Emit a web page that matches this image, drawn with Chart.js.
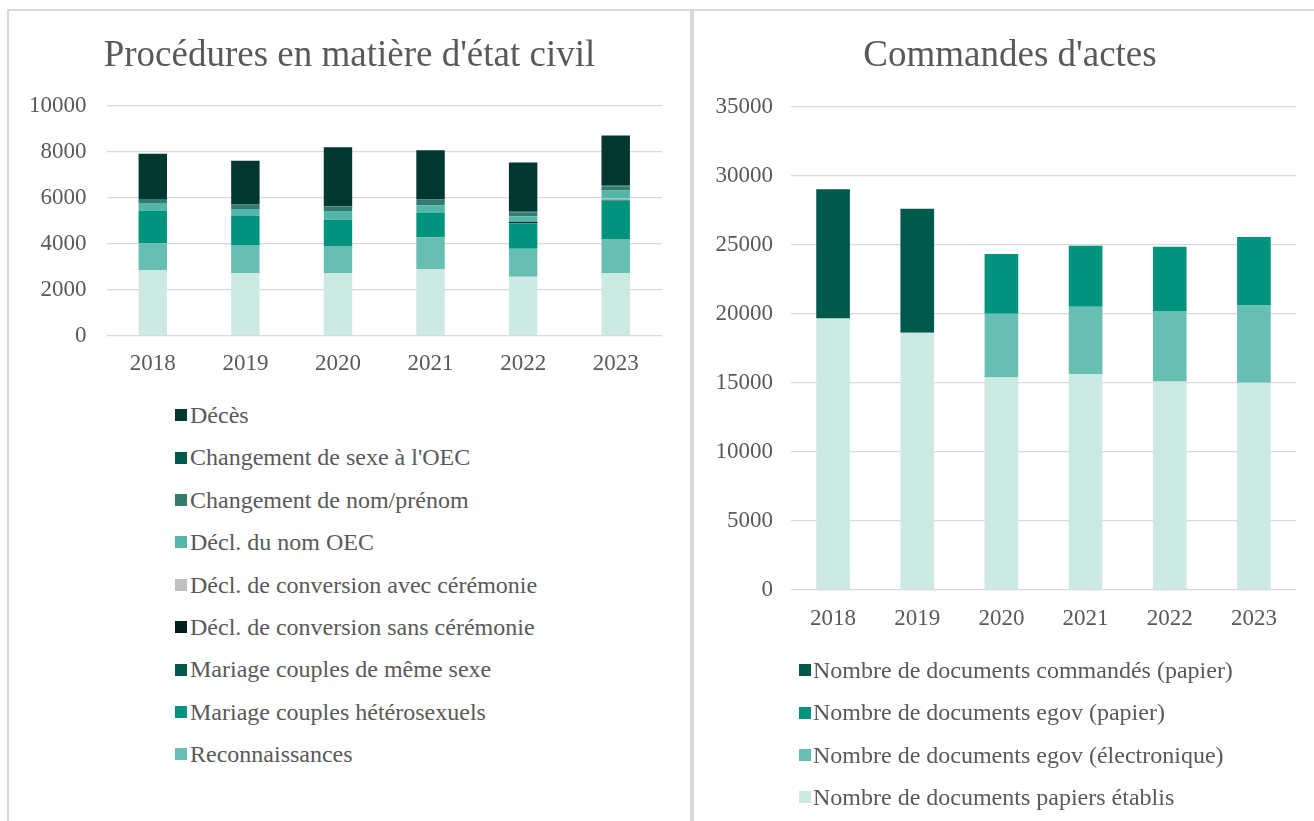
<!DOCTYPE html>
<html>
<head>
<meta charset="utf-8">
<script src="https://cdn.jsdelivr.net/npm/chart.js@4"></script>
<style>
  html, body { margin: 0; padding: 0; background: #ffffff; }
  body { width: 1314px; height: 821px; position: relative; overflow: hidden; font-family: "Liberation Serif", "Times New Roman", serif; }
  .panel { position: absolute; box-sizing: border-box; border: 2px solid #d9d9d9; border-bottom: none; }
  #panelL { left: 7px; top: 9px; width: 685px; height: 830px; }
  #panelR { left: 692px; top: 9px; width: 640px; height: 830px; border-right: none; }
  .cv { position: absolute; }
  #cL { left: 8px; top: 10px; }
  #cR { left: 693px; top: 10px; }
  .legend { position: absolute; margin: 0; padding: 0; list-style: none; color: #595959; font-size: 24px; font-family: "Liberation Serif", "Times New Roman", serif; }
  .legend li { height: 42.4px; line-height: 42.4px; white-space: nowrap; display: flex; align-items: center; }
  .legend .box { display: inline-block; width: 12px; height: 12px; margin-right: 3px; flex: none; }
  #legL { left: 175px; top: 394px; }
  #legR { left: 799px; top: 649px; }
  #legR .box { margin-right: 2px; }
</style>
</head>
<body>
<div class="panel" id="panelL"></div>
<div class="panel" id="panelR"></div>
<canvas id="cL" class="cv" width="683" height="380" style="width:683px;height:380px"></canvas>
<canvas id="cR" class="cv" width="634" height="640" style="width:634px;height:640px"></canvas>
<ul class="legend" id="legL"></ul>
<ul class="legend" id="legR"></ul>
<script>
// ---------- Data: left chart ----------
const years = ['2018', '2019', '2020', '2021', '2022', '2023'];
const titleLeft = "Procédures en matière d'état civil";
const titleRight = "Commandes d'actes";

const naissances          = [2860, 2730, 2715, 2900, 2565, 2725];
const reconnaissances     = [1160, 1220, 1185, 1390, 1220, 1480];
const mariageHetero       = [1420, 1260, 1145, 1055, 1095, 1680];
const mariageMemeSexe     = [0, 0, 0, 0, 20, 30];
const conversionSans      = [0, 0, 0, 0, 55, 0];
const conversionAvec      = [0, 0, 0, 0, 0, 60];
const declNomOEC          = [335, 305, 380, 335, 245, 350];
const changementNom       = [175, 205, 215, 260, 170, 177];
const changementSexe      = [0, 0, 0, 0, 50, 40];
const deces               = [1970, 1895, 2565, 2130, 2115, 2175];
const leftTicks           = [0, 2000, 4000, 6000, 8000, 10000];

// ---------- Data: right chart ----------
const papiersEtablis      = [19670, 18640, 15390, 15660, 15100, 15010];
const egovElectronique    = [0, 0, 4620, 4860, 5110, 5600];
const egovPapier          = [0, 0, 4340, 4430, 4665, 4965];
const commandesPapier     = [9375, 8980, 0, 0, 0, 0];
const rightTicks          = [0, 5000, 10000, 15000, 20000, 25000, 30000, 35000];

const TXT = '#595959';
const GRID = '#d9d9d9';
const FONT = '"Liberation Serif", "Times New Roman", serif';

function htmlLegend(ulId) {
  return {
    id: 'htmlLegend_' + ulId,
    afterUpdate(chart) {
      const ul = document.getElementById(ulId);
      ul.innerHTML = '';
      const ds = chart.data.datasets.slice().reverse();
      ds.forEach(d => {
        if (d.inLegend === false) return;
        const li = document.createElement('li');
        const b = document.createElement('span');
        b.className = 'box';
        b.style.background = d.backgroundColor;
        const t = document.createElement('span');
        t.textContent = d.label;
        li.appendChild(b); li.appendChild(t);
        ul.appendChild(li);
      });
    }
  };
}

function makeOptions(title, ticks, yw, yPad, titlePadTop, titlePadBottom, rightGap, padBottom, xPad) {
  return {
    responsive: false,
    animation: false,
    devicePixelRatio: 1,
    layout: { padding: { left: 0, right: 0, top: 0, bottom: padBottom } },
    plugins: {
      legend: { display: false },
      tooltip: { enabled: false },
      title: {
        display: true, text: title, color: TXT,
        font: { family: FONT, size: 37, weight: 'normal', lineHeight: 1.2 },
        padding: { top: titlePadTop, bottom: titlePadBottom }
      }
    },
    scales: {
      x: {
        stacked: true,
        grid: { display: false, drawTicks: false },
        border: { display: false },
        ticks: { color: TXT, font: { family: FONT, size: 23 }, padding: xPad },
        afterFit(s) { s.height = 50; }
      },
      y: {
        stacked: true,
        min: ticks[0], max: ticks[ticks.length - 1],
        afterBuildTicks(s) { s.ticks = ticks.map(v => ({ value: v })); },
        grid: { color: GRID, lineWidth: 1.3, drawTicks: false },
        border: { display: false },
        ticks: { color: TXT, font: { family: FONT, size: 23 }, padding: yPad, callback: v => String(v) },
        afterFit(s) { s.width = yw; }
      },
      gap: {
        type: 'linear', position: 'right', display: true,
        grid: { display: false, drawTicks: false },
        border: { display: false },
        ticks: { display: false },
        afterFit(s) { s.width = rightGap; }
      }
    }
  };
}

const barL = { barPercentage: 0.307, categoryPercentage: 1.0, borderWidth: 0 };
new Chart(document.getElementById('cL'), {
  type: 'bar',
  data: {
    labels: years,
    datasets: [
      { label: 'Naissances', data: naissances, backgroundColor: '#cce9e4', inLegend: false, ...barL },
      { label: 'Reconnaissances', data: reconnaissances, backgroundColor: '#66bfb2', ...barL },
      { label: 'Mariage couples hétérosexuels', data: mariageHetero, backgroundColor: '#00937e', ...barL },
      { label: 'Mariage couples de même sexe', data: mariageMemeSexe, backgroundColor: '#005a4c', ...barL },
      { label: 'Décl. de conversion sans cérémonie', data: conversionSans, backgroundColor: '#001f1c', ...barL },
      { label: 'Décl. de conversion avec cérémonie', data: conversionAvec, backgroundColor: '#bfbfbf', ...barL },
      { label: 'Décl. du nom OEC', data: declNomOEC, backgroundColor: '#52b7a8', ...barL },
      { label: 'Changement de nom/prénom', data: changementNom, backgroundColor: '#357a70', ...barL },
      { label: "Changement de sexe à l'OEC", data: changementSexe, backgroundColor: '#005a4c', ...barL },
      { label: 'Décès', data: deces, backgroundColor: '#003730', ...barL }
    ]
  },
  options: makeOptions(titleLeft, leftTicks, 98.5, 20, 23.8, 27.8, 29, 4.3, 14),
  plugins: [htmlLegend('legL')]
});

const barR = { barPercentage: 0.40, categoryPercentage: 1.0, borderWidth: 0 };
new Chart(document.getElementById('cR'), {
  type: 'bar',
  data: {
    labels: years,
    datasets: [
      { label: 'Nombre de documents papiers établis', data: papiersEtablis, backgroundColor: '#cce9e4', ...barR },
      { label: 'Nombre de documents egov (électronique)', data: egovElectronique, backgroundColor: '#66bfb2', ...barR },
      { label: 'Nombre de documents egov (papier)', data: egovPapier, backgroundColor: '#00937e', ...barR },
      { label: 'Nombre de documents commandés (papier)', data: commandesPapier, backgroundColor: '#005a4c', ...barR }
    ]
  },
  options: makeOptions(titleRight, rightTicks, 98, 18, 23.8, 28.8, 31, 10, 15),
  plugins: [htmlLegend('legR')]
});
</script>
</body>
</html>
